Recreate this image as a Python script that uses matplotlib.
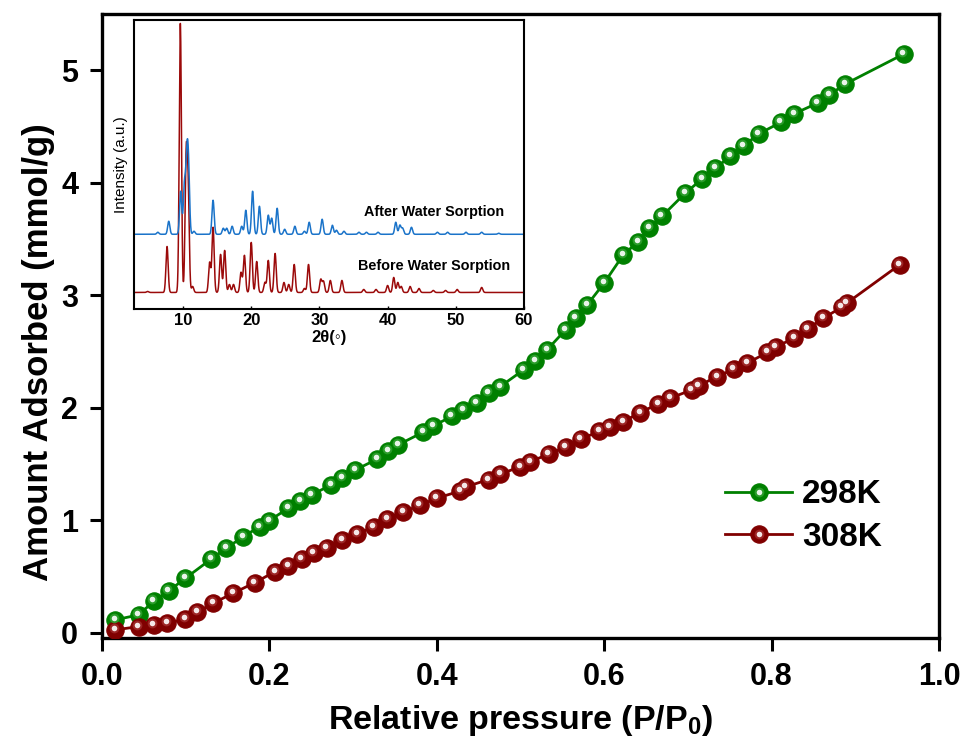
import numpy as np
import matplotlib
matplotlib.use("Agg")
import matplotlib.pyplot as plt
import matplotlib.transforms as mtransforms
from matplotlib.legend_handler import HandlerTuple

plt.rcParams['font.family'] = ['Liberation Sans', 'DejaVu Sans']
plt.rcParams['font.weight'] = 'bold'
plt.rcParams['mathtext.fontset'] = 'custom'
plt.rcParams['mathtext.rm'] = 'Liberation Sans:bold'
plt.rcParams['mathtext.bf'] = 'Liberation Sans:bold'

# isotherm data
p_298 = [0.016, 0.044, 0.062, 0.080, 0.100, 0.131, 0.149, 0.169, 0.189, 0.200,
         0.223, 0.237, 0.251, 0.274, 0.287, 0.303, 0.329, 0.342, 0.354, 0.384,
         0.396, 0.418, 0.432, 0.448, 0.462, 0.476, 0.504, 0.518, 0.532, 0.554,
         0.566, 0.580, 0.600, 0.623, 0.641, 0.654, 0.669, 0.697, 0.717, 0.733,
         0.751, 0.767, 0.785, 0.811, 0.827, 0.855, 0.869, 0.888, 0.958]
q_298 = [0.116, 0.160, 0.280, 0.373, 0.486, 0.658, 0.753, 0.856, 0.945, 0.998,
         1.108, 1.173, 1.227, 1.316, 1.375, 1.449, 1.544, 1.612, 1.671, 1.784,
         1.840, 1.923, 1.982, 2.045, 2.131, 2.189, 2.338, 2.412, 2.516, 2.693,
         2.797, 2.916, 3.108, 3.360, 3.478, 3.597, 3.701, 3.908, 4.033, 4.131,
         4.234, 4.329, 4.436, 4.536, 4.613, 4.708, 4.780, 4.877, 5.144]

p_308 = [0.016, 0.044, 0.062, 0.078, 0.100, 0.114, 0.133, 0.157, 0.183, 0.207,
         0.223, 0.239, 0.253, 0.269, 0.287, 0.305, 0.325, 0.341, 0.360, 0.380,
         0.400, 0.428, 0.435, 0.462, 0.476, 0.500, 0.512, 0.534, 0.554, 0.572,
         0.594, 0.607, 0.623, 0.643, 0.665, 0.679, 0.705, 0.713, 0.735, 0.755,
         0.771, 0.795, 0.805, 0.827, 0.843, 0.862, 0.884, 0.890, 0.953]
q_308 = [0.027, 0.056, 0.071, 0.086, 0.122, 0.184, 0.264, 0.353, 0.447, 0.545,
         0.598, 0.655, 0.708, 0.753, 0.827, 0.877, 0.945, 1.015, 1.074, 1.133,
         1.197, 1.260, 1.298, 1.363, 1.410, 1.478, 1.523, 1.588, 1.651, 1.722,
         1.790, 1.828, 1.878, 1.958, 2.036, 2.086, 2.160, 2.196, 2.278, 2.344,
         2.397, 2.492, 2.540, 2.620, 2.700, 2.797, 2.895, 2.931, 3.271]

# XRD peaks (2theta, height)
before_pos = [4.8, 7.65, 9.6, 10.45, 10.75, 11.4, 13.9, 14.4, 15.5, 16.1, 16.8, 17.4,
              18.5, 19.0, 20.0, 20.8, 22.0, 22.5, 23.5, 24.8, 25.5, 26.3, 27.8, 28.4,
              30.2, 30.6, 31.6, 33.3, 36.5, 38.3, 40.0, 40.9, 41.5, 42.0, 43.3, 44.6,
              46.7, 48.5, 50.2, 53.8]
before_h = [1, 46, 269, 129, 95, 6, 30, 65, 38, 42, 8, 8,
            20, 37, 50, 31, 10, 32, 39, 10, 8, 28, 4, 28,
            13, 11, 12, 12, 3, 3, 7, 15, 10, 6, 6, 4,
            2, 2, 3, 5]
after_pos = [6.3, 7.9, 9.65, 10.2, 10.55, 10.8, 11.6, 14.4, 15.9, 16.4, 17.2, 18.6,
             19.2, 20.2, 21.2, 22.5, 23.0, 23.8, 24.9, 26.4, 27.8, 28.5, 30.4, 31.9,
             32.5, 33.6, 35.8, 36.9, 38.6, 41.2, 41.8, 42.2, 43.5, 47.3, 48.8, 51.5,
             53.8, 56.3]
after_h = [2, 13, 43, 48, 68, 60, 3, 34, 6, 6, 8, 8,
           24, 43, 28, 19, 16, 26, 5, 8, 3, 12, 15, 9,
           4, 3, 2, 2, 2, 12, 9, 6, 7, 2, 2, 2,
           2, 1]
before_base = 16.5
after_base = 74.7

green = '#008000'
maroon = '#800000'


def pattern(tt, pos, h, base, w=0.16):
    y = np.full_like(tt, base)
    for p0, h0 in zip(pos, h):
        y += h0 * np.exp(-0.5 * ((tt - p0) / w) ** 2)
    return y


fig = plt.figure(figsize=(9.66, 7.42), dpi=100)
ax = fig.add_axes([0.1053, 0.1402, 0.8667, 0.8410])

shift = mtransforms.ScaledTranslation(-1.5 / 100, 2.0 / 100, fig.dpi_scale_trans)
handles = []
for p, q, c, shade, lab in [(p_298, q_298, green, '#2fa02f', '298K'),
                            (p_308, q_308, maroon, '#a02a2a', '308K')]:
    ln, = ax.plot(p, q, '-o', color=c, lw=2.0, ms=12.5, mfc=c, mec=c, mew=0.8, zorder=3)
    hl1, = ax.plot(p, q, 'o', ls='none', ms=7, mfc=shade, mec='none', alpha=0.9,
                   transform=ax.transData + shift, zorder=4)
    hl2, = ax.plot(p, q, 'o', ls='none', ms=4.0, mfc='white', mec='none', alpha=0.9,
                   transform=ax.transData + shift, zorder=5)
    handles.append(((ln, hl1, hl2), lab))

ax.set_xlim(0, 1.0)
ax.set_ylim(-0.045, 5.5)
ax.set_xticks(np.arange(0, 1.01, 0.2))
ax.set_yticks(range(0, 6))
ax.xaxis.set_major_formatter(matplotlib.ticker.FormatStrFormatter('%.1f'))
ax.tick_params(direction='out', length=9, width=2.2, labelsize=22, pad=8)
for s in ax.spines.values():
    s.set_linewidth(2.4)
ax.set_xlabel(r'Relative pressure (P/P$_\mathbf{0}$)', fontsize=24.5, fontweight='bold', labelpad=8)
ax.set_ylabel('Amount Adsorbed (mmol/g)', fontsize=25, fontweight='bold')
ax.yaxis.set_label_coords(-0.056, 0.458)

leg = ax.legend([h for h, _ in handles], [l for _, l in handles],
                handler_map={tuple: HandlerTuple(ndivide=1, pad=0)},
                loc='center left', bbox_to_anchor=(0.709, 0.195), frameon=False,
                fontsize=24, handlelength=2.0, handletextpad=0.3, labelspacing=0.35,
                numpoints=1)

# inset XRD
ins = fig.add_axes([0.1387, 0.5836, 0.4037, 0.3895])
tt = np.arange(2.8, 60.0, 0.02)
ins.plot(tt, pattern(tt, before_pos, before_h, before_base), color='#9b0a0a', lw=1.1)
ins.plot(tt, pattern(tt, after_pos, after_h, after_base), color='#1a73c9', lw=1.1)
ins.set_xlim(2.8, 60)
ins.set_ylim(0, 289)
ins.set_yticks([])
ins.set_xticks(range(10, 61, 10))
ins.tick_params(direction='in', length=2, width=1, labelsize=12, pad=3)
for s in ins.spines.values():
    s.set_linewidth(1.5)
ins.set_xlabel('2θ(◦)', fontsize=12, fontweight='bold', labelpad=1)
ins.set_ylabel('Intensity (a.u.)', fontsize=11, fontweight='normal', labelpad=4)
ins.text(46.8, 97, 'After Water Sorption', fontsize=10.4, fontweight='bold', ha='center', va='center')
ins.text(46.8, 43, 'Before Water Sorption', fontsize=10.4, fontweight='bold', ha='center', va='center')

fig.savefig('out.png', dpi=100)
